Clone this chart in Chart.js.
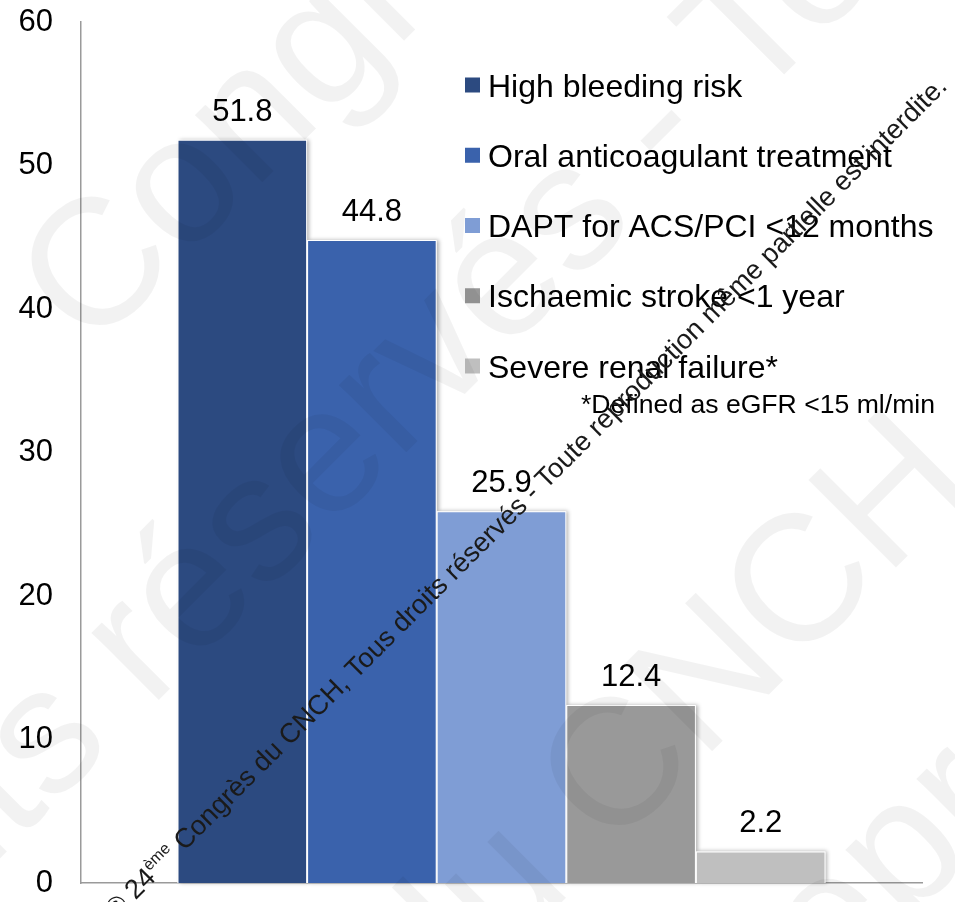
<!DOCTYPE html>
<html>
<head>
<meta charset="utf-8">
<script src="https://cdn.jsdelivr.net/npm/chart.js@4.4.1/dist/chart.umd.min.js"></script>
<style>
  html, body { margin: 0; padding: 0; background: #ffffff; }
  canvas { display: block; }
</style>
</head>
<body>
<canvas id="chart" width="955" height="902"></canvas>
<script>
// ---- data ----
const categories = [''];
const seriesNames = [
  'High bleeding risk',
  'Oral anticoagulant treatment',
  'DAPT for ACS/PCI <12 months',
  'Ischaemic stroke <1 year',
  'Severe renal failure*'
];
const seriesValues = [51.8, 44.8, 25.9, 12.4, 2.2];
const seriesColors = ['#2c4a80', '#3a62ac', '#7f9dd5', '#999999', '#bfbfbf'];
const yTickValues = [0, 10, 20, 30, 40, 50, 60];
const footnote = '*Defined as eGFR <15 ml/min';
const noticeStart = '\u00a9 24';
const noticeSup = '\u00e8me';
const noticeRest = ' Congr\u00e8s du CNCH, Tous droits r\u00e9serv\u00e9s - Toute reproduction m\u00eame partielle est interdite.';

const FONT = '"Liberation Sans", Arial, Helvetica, sans-serif';

// soft drop shadow behind each bar
const barShadow = {
  id: 'barShadow',
  beforeDatasetsDraw(chart) {
    const ctx = chart.ctx;
    ctx.save();
    ctx.shadowColor = 'rgba(0,0,0,0.30)';
    ctx.shadowBlur = 4;
    ctx.shadowOffsetX = 2;
    ctx.shadowOffsetY = 0;
    ctx.fillStyle = '#ffffff';
    chart.data.datasets.forEach((ds, i) => {
      chart.getDatasetMeta(i).data.forEach(bar => {
        const w = bar.width;
        ctx.fillRect(bar.x - w / 2, bar.y, w, bar.base - bar.y);
      });
    });
    ctx.restore();
  }
};

// value printed above every bar
const valueLabels = {
  id: 'valueLabels',
  afterDatasetsDraw(chart) {
    const ctx = chart.ctx;
    ctx.save();
    ctx.font = '31px ' + FONT;
    ctx.fillStyle = '#000000';
    ctx.textAlign = 'center';
    ctx.textBaseline = 'alphabetic';
    chart.data.datasets.forEach((ds, i) => {
      chart.getDatasetMeta(i).data.forEach((bar, j) => {
        ctx.fillText(String(ds.data[j]), bar.x, bar.y - 19);
      });
    });
    ctx.restore();
  }
};

// legend placed inside the plot, plus the footnote under it
const insideLegend = {
  id: 'insideLegend',
  afterDatasetsDraw(chart, args, opts) {
    const ctx = chart.ctx;
    ctx.save();
    ctx.textAlign = 'left';
    ctx.textBaseline = 'alphabetic';
    chart.data.datasets.forEach((ds, i) => {
      const cy = opts.top + i * opts.rowGap;
      ctx.fillStyle = ds.backgroundColor;
      ctx.fillRect(opts.left, cy - 7.5, 15, 15);
      ctx.fillStyle = '#000000';
      ctx.font = '32px ' + FONT;
      ctx.fillText(ds.label, opts.left + 23, cy + 11.5);
    });
    ctx.font = '26.6px ' + FONT;
    ctx.fillText(footnote, opts.noteX, opts.noteY);
    ctx.restore();
  }
};

// copyright notices laid diagonally over the chart
const notices = {
  id: 'notices',
  afterDraw(chart) {
    const ctx = chart.ctx;
    const ang = -Math.PI / 4;

    // large pale lettering
    const big = 180;
    const pale = [
      ['Congr\u00e8s du CNCH, Tous droits r\u00e9serv\u00e9s', 0, 91, 262],
      ['Tous droits r\u00e9serv\u00e9s - Toute reproduction', 10, 37, 730],
      ['Congr\u00e8s du CNCH, Tous droits', 11, 610, 762],
      ['Toute reproduction m\u00eame partielle', 7, 823, 915]
    ];
    ctx.save();
    ctx.font = big + 'px ' + FONT;
    ctx.fillStyle = 'rgba(0,0,0,0.05)';
    ctx.textBaseline = 'alphabetic';
    ctx.textAlign = 'left';
    pale.forEach(([text, idx, cx, cy]) => {
      const pre = ctx.measureText(text.slice(0, idx)).width;
      const ch = ctx.measureText(text[idx]).width;
      ctx.save();
      ctx.translate(cx, cy);
      ctx.rotate(ang);
      ctx.fillText(text, -(pre + ch / 2), 0.36 * big);
      ctx.restore();
    });
    ctx.restore();

    // small dark line of text
    ctx.save();
    ctx.translate(116, 920);
    ctx.rotate(ang);
    ctx.fillStyle = '#1a1a1a';
    ctx.textBaseline = 'alphabetic';
    ctx.textAlign = 'left';
    ctx.font = '27.3px ' + FONT;
    let x = 0;
    ctx.fillText(noticeStart, x, 0);
    x += ctx.measureText(noticeStart).width;
    ctx.font = '16px ' + FONT;
    ctx.fillText(noticeSup, x, -11);
    x += ctx.measureText(noticeSup).width;
    ctx.font = '27.3px ' + FONT;
    ctx.fillText(noticeRest, x, 0);
    ctx.restore();
  }
};

new Chart(document.getElementById('chart'), {
  type: 'bar',
  data: {
    labels: categories,
    datasets: seriesNames.map((name, i) => ({
      label: name,
      data: [seriesValues[i]],
      backgroundColor: seriesColors[i],
      borderColor: '#ffffff',
      borderWidth: 1,
      borderSkipped: 'bottom',
      categoryPercentage: 0.7705,
      barPercentage: 1.0
    }))
  },
  options: {
    responsive: false,
    animation: false,
    devicePixelRatio: 1,
    layout: { padding: { top: 22, right: 33, bottom: 19, left: 0 } },
    plugins: {
      legend: { display: false },
      tooltip: { enabled: false },
      insideLegend: { left: 465, top: 85, rowGap: 70.25, noteX: 581, noteY: 413 }
    },
    scales: {
      x: {
        grid: { display: false, drawTicks: false },
        border: { display: true, color: '#9a9a9a', width: 1.5 },
        ticks: { display: false },
        afterFit(scale) { scale.height = 0; }
      },
      y: {
        min: 0,
        max: 60,
        afterBuildTicks(scale) { scale.ticks = yTickValues.map(v => ({ value: v })); },
        grid: { display: false, drawTicks: false },
        border: { display: true, color: '#9a9a9a', width: 1.5 },
        ticks: {
          padding: 28,
          color: '#000000',
          font: { family: FONT, size: 31 }
        },
        afterFit(scale) {
          scale.width = 81;
          scale.paddingTop = 0;
          scale.paddingBottom = 0;
        }
      }
    }
  },
  plugins: [barShadow, valueLabels, insideLegend, notices]
});
</script>
</body>
</html>
